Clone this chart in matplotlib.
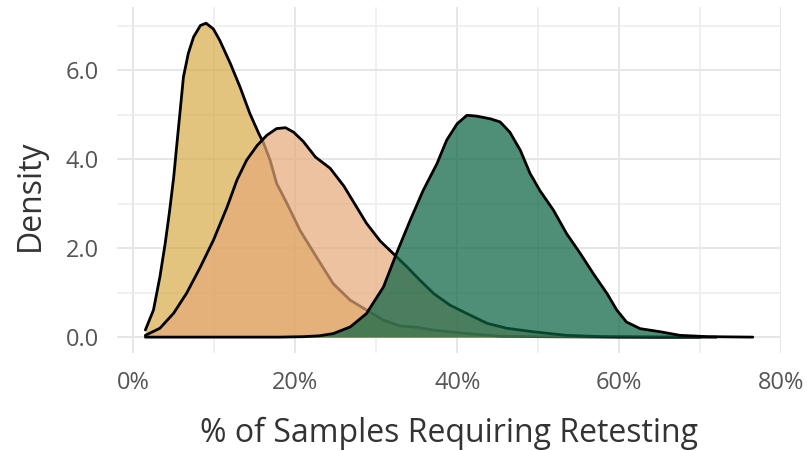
import matplotlib
matplotlib.use("Agg")
import matplotlib.pyplot as plt
from matplotlib.ticker import FixedLocator, FuncFormatter

# --- data ---
yellow_x = [1.5, 2.5, 3.3, 3.95, 4.5, 5.0, 5.4, 5.8, 6.2, 6.8, 7.45, 8.3, 9.0, 9.9, 10.7, 12.0,
            13.2, 14.4, 15.5, 16.1, 16.9, 17.7, 19.0, 20.6, 22.7, 24.7, 26.8, 28.8, 30.9, 33.0,
            35.0, 37.0, 41.2, 45.3, 50.0, 60.0, 70.0]
yellow_y = [0.16, 0.61, 1.36, 2.11, 2.85, 3.60, 4.36, 5.10, 5.85, 6.38, 6.75, 7.01, 7.06, 6.93,
            6.67, 6.15, 5.62, 5.03, 4.58, 4.36, 3.98, 3.46, 3.00, 2.40, 1.78, 1.20, 0.83, 0.61,
            0.38, 0.25, 0.22, 0.16, 0.08, 0.02, 0.01, 0.0, 0.0]

peach_x = [1.5, 3.3, 5.0, 6.6, 8.3, 9.9, 11.6, 12.8, 14.0, 15.3, 16.5, 17.7, 18.8, 19.8, 21.0,
           22.5, 24.3, 26.0, 27.6, 28.8, 30.5, 32.1, 33.8, 35.4, 37.1, 39.1, 41.2, 43.7, 46.1,
           49.4, 53.5, 58.0, 65.0, 72.0]
peach_y = [0.04, 0.20, 0.54, 0.99, 1.58, 2.18, 2.93, 3.53, 3.98, 4.31, 4.54, 4.69, 4.71, 4.61,
           4.40, 4.05, 3.80, 3.40, 2.92, 2.56, 2.16, 1.88, 1.58, 1.28, 0.98, 0.72, 0.53, 0.31,
           0.20, 0.12, 0.04, 0.01, 0.0, 0.0]

green_x = [1.5, 10.0, 18.0, 21.0, 23.0, 24.7, 26.8, 28.8, 30.9, 32.5, 34.2, 35.8, 37.5, 38.7,
           40.0, 41.2, 42.4, 44.1, 45.3, 46.5, 47.8, 49.0, 50.2, 51.9, 53.5, 55.2, 56.8, 58.5,
           59.7, 60.9, 62.6, 65.1, 67.5, 71.0, 76.5]
green_y = [0.0, 0.0, 0.0, 0.01, 0.03, 0.08, 0.23, 0.53, 1.13, 1.88, 2.63, 3.30, 3.90, 4.43,
           4.80, 4.99, 4.97, 4.91, 4.84, 4.61, 4.20, 3.68, 3.30, 2.85, 2.33, 1.88, 1.43, 0.98,
           0.61, 0.34, 0.19, 0.12, 0.04, 0.01, 0.0]

x_ticks = [0, 20, 40, 60, 80]
y_ticks = [0.0, 2.0, 4.0, 6.0]

plt.rcParams['font.family'] = ['Open Sans', 'DejaVu Sans']

fig = plt.figure(figsize=(8.07, 4.51), dpi=100)
ax = fig.add_axes([0.145, 0.217, 0.823, 0.767])

series = [
    (yellow_x, yellow_y, '#D7AB48', 0.7),
    (peach_x, peach_y, '#E5A979', 0.7),
    (green_x, green_y, '#0B6444', 0.72),
]
z = 3
for xs, ys, col, a in series:
    ax.fill_between(xs, 0, ys, color=col, alpha=a, linewidth=0, zorder=z)
    ax.plot(xs, ys, color='black', lw=2.0, zorder=z + 0.5,
            solid_capstyle='round', solid_joinstyle='round')
    z += 1

ax.set_xlim(-2.0, 80.0)
ax.set_ylim(-0.36, 7.42)

ax.xaxis.set_major_locator(FixedLocator(x_ticks))
ax.xaxis.set_minor_locator(FixedLocator([10, 30, 50, 70]))
ax.yaxis.set_major_locator(FixedLocator(y_ticks))
ax.yaxis.set_minor_locator(FixedLocator([1, 3, 5, 7]))
ax.xaxis.set_major_formatter(FuncFormatter(lambda v, p: f"{v:.0f}%"))
ax.yaxis.set_major_formatter(FuncFormatter(lambda v, p: f"{v:.1f}"))

ax.grid(True, which='major', color='#E6E6E6', lw=1.4, zorder=0)
ax.grid(True, which='minor', color='#ECECEC', lw=1.1, zorder=0)
ax.set_axisbelow(True)
for s in ax.spines.values():
    s.set_visible(False)
ax.tick_params(which='both', length=0)
ax.tick_params(axis='both', labelsize=17, labelcolor='#555555')
ax.tick_params(axis='x', pad=13)
ax.tick_params(axis='y', pad=13)

ax.set_xlabel('% of Samples Requiring Retesting', fontsize=23, color='#333333')
ax.set_ylabel('Density', fontsize=23, color='#333333', va='center')
ax.xaxis.set_label_coords(0.5, -0.185)
ax.yaxis.set_label_coords(-0.131, 0.455)

fig.savefig('out.png', dpi=100)
